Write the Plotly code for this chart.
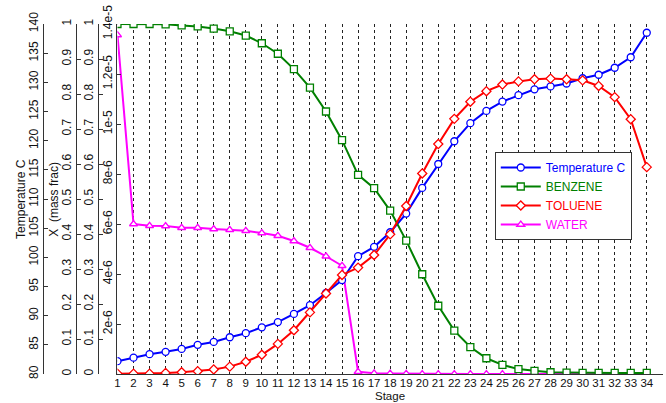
import plotly.graph_objects as go

stages = list(range(1, 35))
temperature = [82.2, 82.8, 83.4, 83.8, 84.3, 85.0, 85.5, 86.3, 87.0, 88.0, 88.9, 90.3,
               91.8, 93.9, 96.1, 100.2, 101.8, 104.3, 107.5, 111.9, 116.0, 119.9, 123.0,
               125.1, 126.7, 127.8, 128.8, 129.3, 129.8, 130.7, 131.3, 132.5, 134.3, 138.5]
benzene = [1.0, 1.0, 1.0, 0.999, 0.996, 0.993, 0.987, 0.979, 0.967, 0.945, 0.915, 0.871,
           0.818, 0.75, 0.668, 0.569, 0.531, 0.467, 0.381, 0.285, 0.195, 0.124, 0.077,
           0.045, 0.026, 0.014, 0.009, 0.005, 0.004, 0.003, 0.003, 0.003, 0.003, 0.003]
toluene = [0.001, 0.001, 0.001, 0.003, 0.005, 0.008, 0.013, 0.021, 0.035, 0.055, 0.086,
           0.125, 0.176, 0.23, 0.283, 0.304, 0.34, 0.399, 0.48, 0.573, 0.657, 0.729, 0.778,
           0.808, 0.827, 0.836, 0.842, 0.844, 0.842, 0.839, 0.823, 0.791, 0.728, 0.591]
water = [13.56e-6, 6.0e-6, 5.93e-6, 5.92e-6, 5.85e-6, 5.85e-6, 5.80e-6, 5.77e-6, 5.73e-6,
         5.64e-6, 5.53e-6, 5.32e-6, 5.05e-6, 4.71e-6, 4.33e-6, 0.09e-6, 0.03e-6, 0.02e-6,
         0.01e-6, 0.0, 0.0, 0.0, 0.0, 0.0, 0.0, 0.0, 0.0, 0.0, 0.0, 0.0, 0.0, 0.0, 0.0, 0.0]

x_ticks = list(range(1, 36))
temp_ticks = list(range(80, 141, 5))
frac_ticks = [0, 0.1, 0.2, 0.3, 0.4, 0.5, 0.6, 0.7, 0.8, 0.9, 1]
frac_labels = ["0", "0.1", "0.2", "0.3", "0.4", "0.5", "0.6", "0.7", "0.8", "0.9", "1"]
water_ticks = [2e-6, 4e-6, 6e-6, 8e-6, 1e-5, 1.2e-5, 1.4e-5]
water_labels = ["2e-6", "4e-6", "6e-6", "8e-6", "1e-5", "1.2e-5", "1.4e-5"]

W, H = 666, 403
ML, MR, MT, MB = 0, 0, 24, 29
FONT = "Liberation Sans, Arial, sans-serif"

fig = go.Figure()

def add(y, name, color, symbol, axis):
    fig.add_trace(go.Scatter(
        x=stages, y=y, name=f"<span style='color:{color}'>{name}</span>",
        mode="lines+markers", yaxis=axis,
        line=dict(color=color, width=2),
        marker=dict(symbol=symbol, size=7, color="white",
                    line=dict(color=color, width=1.3)),
    ))

add(temperature, "Temperature C", "#0000FF", "circle", "y2")
add(benzene, "BENZENE", "#008000", "square", "y3")
add(toluene, "TOLUENE", "#FF0000", "diamond", "y4")
add(water, "WATER", "#FF00FF", "triangle-up", "y")

axcommon = dict(showgrid=False, zeroline=False, showline=True, linecolor="#333",
                linewidth=1, ticks="inside", ticklen=4, tickcolor="#333",
                tickangle=-90, tickfont=dict(size=12, color="#111", family=FONT))

fig.update_layout(
    width=W, height=H,
    margin=dict(l=ML, r=MR, t=MT, b=MB),
    paper_bgcolor="white", plot_bgcolor="white",
    font=dict(family=FONT, size=12, color="#111"),
    xaxis=dict(domain=[115 / W, 662.8 / W], range=[1, 35], tickvals=x_ticks,
               ticktext=[str(v) for v in x_ticks], ticklabelstandoff=-2,
               showgrid=True, gridcolor="#222", griddash="dot", gridwidth=1,
               zeroline=False, showline=True, linecolor="#333", ticks="",
               tickfont=dict(size=11.5, color="#111", family=FONT)),
    yaxis=dict(range=[0, 1.4e-5], tickvals=water_ticks, ticktext=water_labels,
               **axcommon),
    yaxis2=dict(range=[80, 140], tickvals=temp_ticks, ticktext=[str(v) for v in temp_ticks],
                overlaying="y", anchor="free", position=40 / W, side="left", **axcommon),
    yaxis3=dict(range=[0, 1], tickvals=frac_ticks, ticktext=frac_labels,
                overlaying="y", anchor="free", position=73 / W, side="left", **axcommon),
    yaxis4=dict(range=[0, 1], tickvals=frac_ticks, ticktext=frac_labels,
                overlaying="y", anchor="free", position=95 / W, side="left", **axcommon),
    legend=dict(x=494 / W, y=(374 - 152) / 350, xanchor="left", yanchor="top",
                bgcolor="white", bordercolor="#333", borderwidth=1,
                font=dict(size=12, family=FONT), itemwidth=40, tracegroupgap=0),
    showlegend=True,
)

fig.add_annotation(text="Temperature C", textangle=-90, xref="paper", yref="paper",
                   x=18 / W, y=0.5, xanchor="center", yanchor="middle",
                   showarrow=False, font=dict(size=12, color="#111"))
fig.add_annotation(text="X  (mass frac)", textangle=-90, xref="paper", yref="paper",
                   x=51 / W, y=0.5, xanchor="center", yanchor="middle",
                   showarrow=False, font=dict(size=12, color="#111"))
fig.add_annotation(text="Stage", xref="paper", yref="paper",
                   x=(115 + 662.8) / 2 / W, y=0, xanchor="center", yanchor="top",
                   yshift=-14, showarrow=False, font=dict(size=11.5, color="#111"))

fig.write_html("out.html")
